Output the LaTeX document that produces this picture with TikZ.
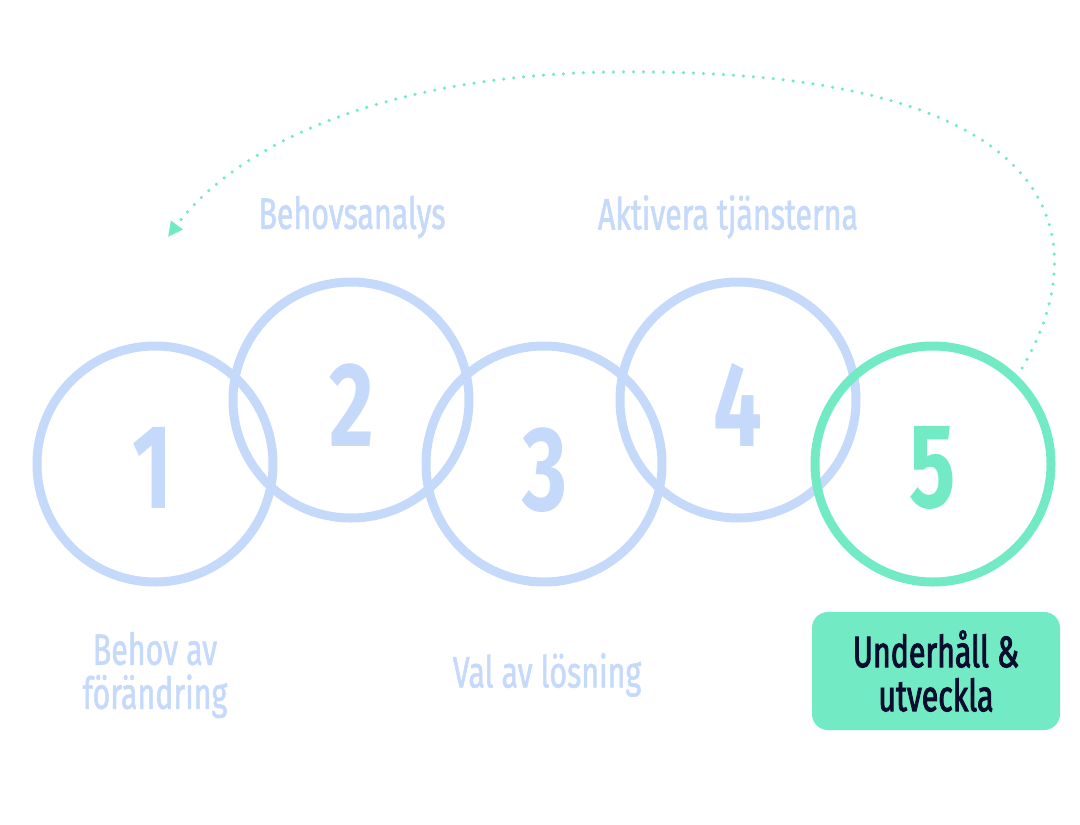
\documentclass[tikz,border=0pt]{standalone}
\usepackage{fontspec}
\setmainfont{Fira Sans}
\newfontfamily\labfont[FakeStretch=0.69,FakeBold=1.2]{Fira Sans}
\newfontfamily\boxfont[FakeStretch=0.69,FakeBold=2]{Fira Sans}
\newfontfamily\numfont[FakeStretch=0.72]{Fira Sans}
\usetikzlibrary{arrows.meta}
\definecolor{lblue}{HTML}{C5D9FA}
\definecolor{mint}{HTML}{72EAC4}
\definecolor{ink}{HTML}{0B0D2E}
\begin{document}
\begin{tikzpicture}[x=1pt,y=-1pt,
  ring/.style={draw=lblue,line width=9pt,circle,minimum size=236pt,inner sep=0pt},
  ringg/.style={ring,draw=mint},
  num/.style={text=lblue,font=\numfont\bfseries\fontsize{120}{120}\selectfont},
  lab/.style={text=lblue,font=\labfont\fontsize{44}{44}\selectfont,align=center},
  boxlab/.style={fill=mint,rounded corners=16pt,minimum width=248pt,minimum height=118pt,text=ink,font=\boxfont\fontsize{44}{44}\selectfont,align=center}]
\useasboundingbox (0,0) rectangle (1080,825);
\node[ring] (c1) at (155,464) {};
\node[ring] (c2) at (351,400) {};
\node[ring] (c3) at (544,464) {};
\node[ring] (c4) at (738,400) {};
\node[ringg] (c5) at (933,464) {};
\node[num] (n1) at (153,468) {1};
\node[num] (n2) at (352,405) {2};
\node[num] (n3) at (545,470) {3};
\node[num] (n4) at (738,405) {4};
\node[num,text=mint] (n5) at (933,468) {5};
\node[lab] (l2) at (352,217) {Behovsanalys};
\node[lab] (l4) at (728,217) {Aktivera tjänsterna};
\node[lab] (l1) at (155,675) {Behov av\\förändring};
\node[lab] (l3) at (547,675) {Val av lösning};
\node[boxlab] (b5) at (936,671) {Underhåll \&\\utveckla};
\coordinate (s) at (1022,368);
\coordinate (top) at (650,72);
\coordinate (e) at (168,237);
\draw[mint,line width=3.5pt,line cap=round,dash pattern=on 0pt off 10pt,
  -{Triangle[length=15pt,width=14pt,line cap=butt]}]
  (s) .. controls (1092,250) and (1082,76) .. (top)
      .. controls (400,68) and (240,140) .. (e);
\end{tikzpicture}
\end{document}
